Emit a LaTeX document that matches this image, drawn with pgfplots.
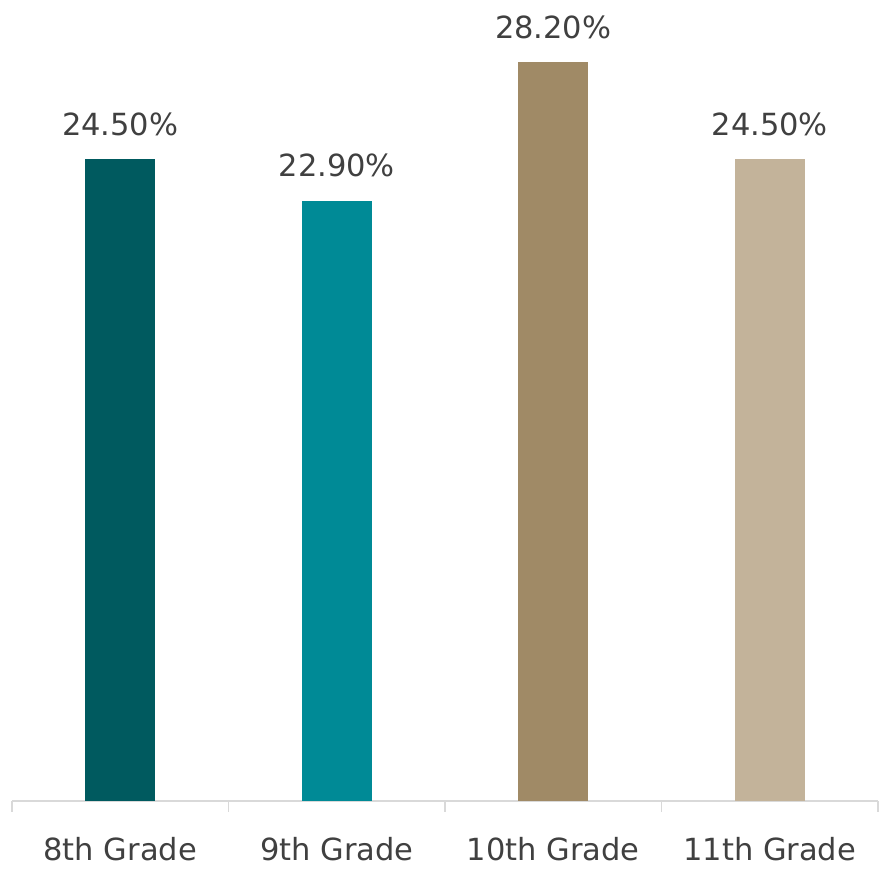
\documentclass[border=0pt]{standalone}
\usepackage{pgfplots}
\pgfplotsset{compat=1.18}
\usepackage{fontspec}
\setmainfont{DejaVu Sans}
\definecolor{c1}{HTML}{005A5F}
\definecolor{c2}{HTML}{008A96}
\definecolor{c3}{HTML}{A08A66}
\definecolor{c4}{HTML}{C3B39A}
\definecolor{txt}{HTML}{404040}
\definecolor{axl}{HTML}{D9D9D9}
\begin{document}
\begin{tikzpicture}
\useasboundingbox (0,0) rectangle (881pt,869pt);
\begin{axis}[
  at={(12pt,68pt)}, anchor=south west,
  scale only axis, width=866pt, height=801pt,
  xmin=-0.5, xmax=3.5, ymin=0, ymax=30.57,
  axis y line=none, axis x line*=bottom,
  axis line style={axl, line width=1.2pt},
  /pgf/number format/assume math mode=true,
  xtick={0,1,2,3},
  xticklabels={8th Grade,9th Grade,10th Grade,11th Grade},
  major tick length=0pt,
  extra x ticks={-0.5,0.5,1.5,2.5,3.5},
  extra x tick labels={},
  extra x tick style={major tick length=11pt, tick style={axl, line width=1.2pt}, tick align=outside},
  xticklabel style={font=\fontsize{30.5}{36}\selectfont, text=txt, yshift=-33pt},
  bar width=70pt,
  nodes near coords={\pgfmathprintnumber[fixed,fixed zerofill,precision=2,assume math mode=true]{\pgfplotspointmeta}\%},
  every node near coord/.append style={font=\fontsize{30.5}{36}\selectfont, text=txt, yshift=20pt},
  clip=false,
]
\addplot[ybar, fill=c1, draw=none] coordinates {(0,24.5)};
\addplot[ybar, fill=c2, draw=none] coordinates {(1,22.9)};
\addplot[ybar, fill=c3, draw=none] coordinates {(2,28.2)};
\addplot[ybar, fill=c4, draw=none] coordinates {(3,24.5)};
\end{axis}
\end{tikzpicture}
\end{document}
